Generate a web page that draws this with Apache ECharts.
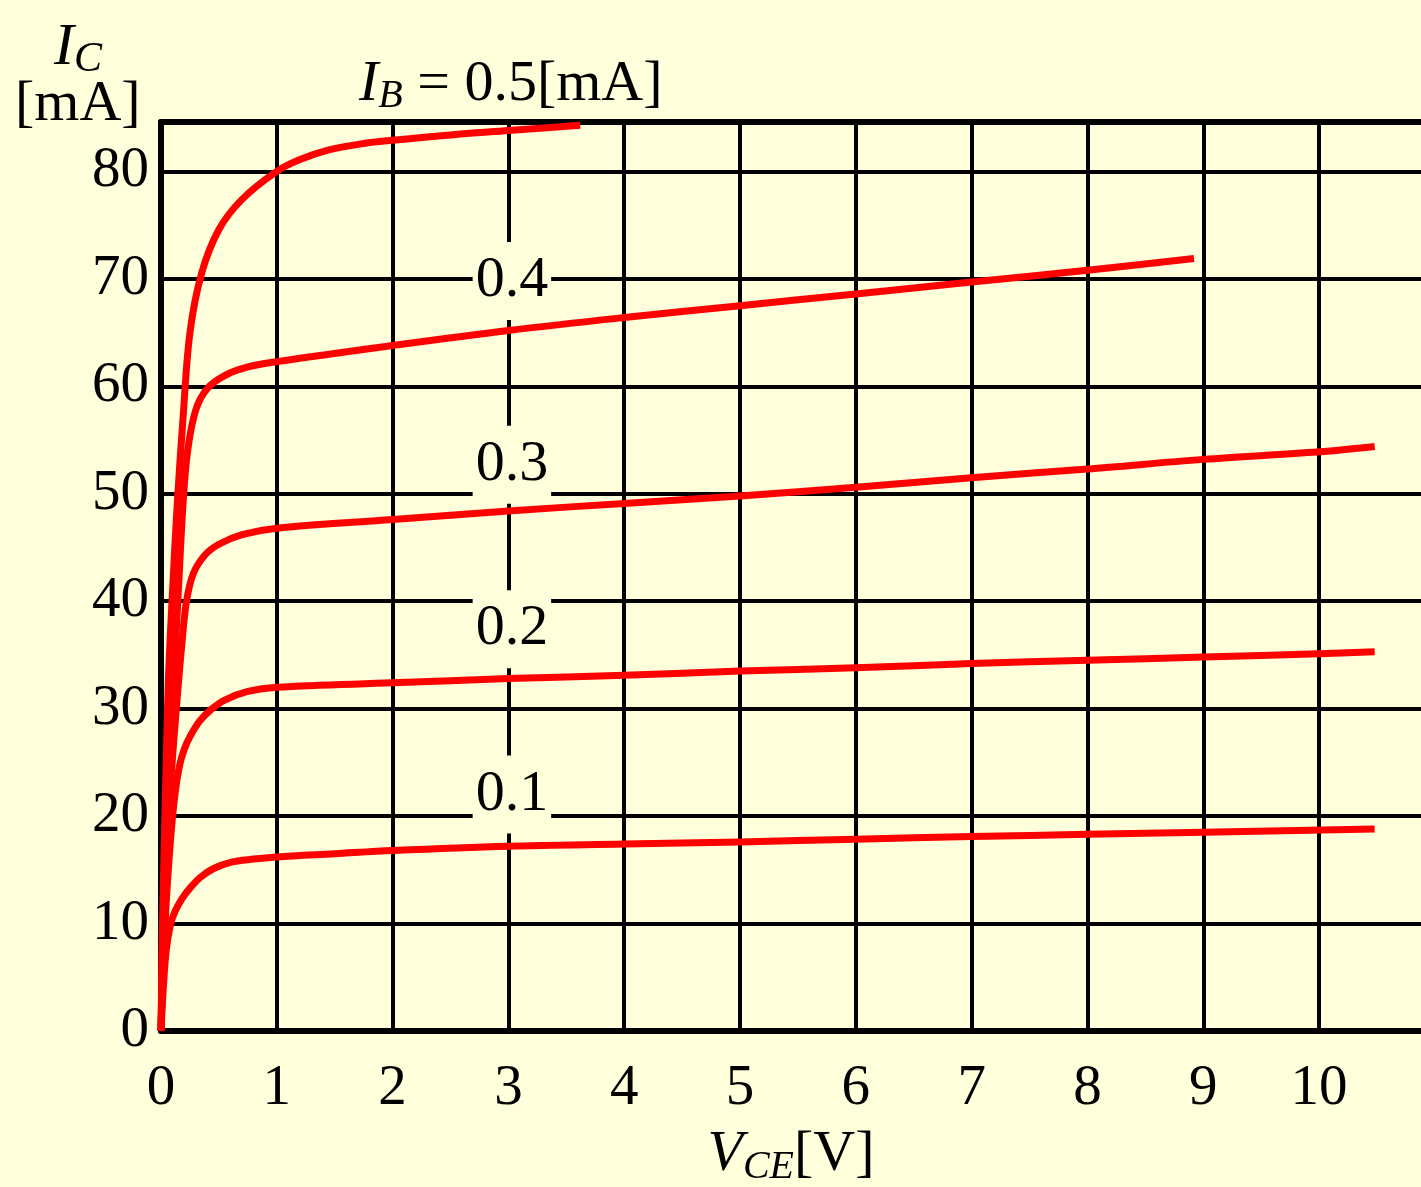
<!DOCTYPE html>
<html>
<head>
<meta charset="utf-8">
<script src="https://cdn.jsdelivr.net/npm/echarts@6/dist/echarts.min.js"></script>
<style>
  html, body { margin: 0; padding: 0; background: #FFFFDB; }
  #chart { width: 1421px; height: 1187px; }
</style>
</head>
<body>
<div id="chart"></div>
<script>
// Transistor output characteristics: collector current vs collector-emitter voltage
const ibLevels = ['0.1', '0.2', '0.3', '0.4', '0.5'];

// [V_CE (V), I_C (mA)] for each base current
const curveIb01 = [[0,0],[0.02,4],[0.045,7.5],[0.08,9.8],[0.12,11.1],[0.18,12.3],[0.25,13.3],[0.34,14.3],[0.45,15.1],[0.6,15.7],[0.8,16.0],[1,16.2],[1.5,16.5],[2,16.8],[3,17.2],[4,17.4],[5,17.6],[6,17.85],[7,18.1],[8,18.3],[9,18.5],[10.48,18.8]];
const curveIb02 = [[0,0],[0.015,5],[0.04,11],[0.08,17.5],[0.12,22],[0.16,24.7],[0.2,26.2],[0.25,27.4],[0.33,28.8],[0.43,29.9],[0.55,30.8],[0.75,31.6],[1,32.0],[2,32.4],[3,32.8],[4,33.1],[5,33.5],[6,33.8],[7,34.2],[8,34.5],[9,34.8],[10,35.1],[10.48,35.3]];
const curveIb03 = [[0,0],[0.02,8],[0.05,16],[0.09,24],[0.14,31],[0.18,36],[0.22,40],[0.28,42.6],[0.38,44.3],[0.5,45.3],[0.7,46.2],[1,46.8],[2,47.6],[3,48.4],[4,49.1],[5,49.8],[6,50.6],[7,51.5],[8,52.3],[9,53.2],[10,53.9],[10.48,54.4]];
const curveIb04 = [[0,0],[0.015,8],[0.035,16],[0.07,25],[0.11,33],[0.15,41],[0.19,49],[0.23,54],[0.3,57.8],[0.4,59.8],[0.55,61.0],[0.75,61.8],[1,62.3],[2,63.8],[3,65.2],[4,66.4],[5,67.5],[6,68.6],[7,69.7],[8,70.8],[8.92,71.9]];
const curveIb05 = [[0,0],[0.01,8],[0.025,16],[0.045,25],[0.065,33],[0.1,41],[0.14,49],[0.19,57],[0.25,65],[0.35,70.5],[0.5,74.6],[0.7,77.4],[1.0,80.0],[1.2,81.1],[1.45,82.0],[1.75,82.6],[2,82.9],[2.5,83.4],[3,83.8],[3.62,84.3]];
const curves = [curveIb01, curveIb02, curveIb03, curveIb04, curveIb05];

// Where each base-current tag sits, in (V_CE, I_C) coordinates
const ibTagAnchors = [[3.03, 22.0], [3.03, 37.4], [3.03, 52.7], [3.03, 69.8], [3.02, 88.1]];

// Axis extents and tick steps
const xMax = 10.88, xStep = 1;
const yMax = 84.6, yStep = 10;

const BG = '#FFFFDB';
const SERIF = "'Liberation Serif', 'Times New Roman', 'DejaVu Serif', serif";
const RED = '#FF0000';
const FS = 57;

const chart = echarts.init(document.getElementById('chart'), null, { renderer: 'canvas' });

const richSub = {
  i: { fontFamily: SERIF, fontSize: 58, fontStyle: 'italic', color: '#000' },
  s: { fontFamily: SERIF, fontSize: 40, fontStyle: 'italic', color: '#000', padding: [24, 0, 0, 0] },
  n: { fontFamily: SERIF, fontSize: 58, color: '#000' }
};

const tagData = ibTagAnchors.map((p, i) => {
  const isMain = i === ibLevels.length - 1;
  const item = { value: [p[0], p[1], ibLevels[i], isMain ? 1 : 0] };
  if (isMain) item.label = { backgroundColor: 'transparent', padding: 0 };
  return item;
});

const option = {
  backgroundColor: BG,
  animation: false,
  grid: { left: 161, right: 0, top: 122, bottom: 156, containLabel: false, outerBoundsMode: 'none' },
  xAxis: [{
    type: 'value', min: 0, max: xMax, interval: xStep,
    position: 'bottom',
    axisLine: { show: true, onZero: false, lineStyle: { color: '#000', width: 6 } },
    axisTick: { show: false },
    splitLine: { show: true, showMinLine: false, showMaxLine: false, lineStyle: { color: '#000', width: 4 } },
    axisLabel: { show: true, showMaxLabel: false, margin: 30, color: '#000', fontFamily: SERIF, fontSize: FS },
    name: '{i|V}{s|CE}{n|[V]}',
    nameLocation: 'middle',
    nameGap: 92,
    nameTextStyle: { rich: richSub }
  }, {
    type: 'value', min: 0, max: xMax, interval: xStep,
    position: 'top',
    axisLine: { show: true, onZero: false, lineStyle: { color: '#000', width: 6 } },
    axisTick: { show: false },
    axisLabel: { show: false },
    splitLine: { show: false }
  }],
  yAxis: {
    type: 'value', min: 0, max: yMax, interval: yStep,
    axisLine: { show: true, onZero: false, lineStyle: { color: '#000', width: 6 } },
    axisTick: { show: false },
    splitLine: { show: true, showMinLine: false, showMaxLine: false, lineStyle: { color: '#000', width: 4 } },
    axisLabel: { show: true, showMaxLabel: false, margin: 12, color: '#000', fontFamily: SERIF, fontSize: FS }
  },
  graphic: [{
    type: 'text',
    left: 54, top: 18,
    style: {
      text: '{i|I}{s|C}',
      rich: {
        i: { fontFamily: SERIF, fontSize: 60, fontStyle: 'italic', fill: '#000' },
        s: { fontFamily: SERIF, fontSize: 42, fontStyle: 'italic', fill: '#000', padding: [24, 0, 0, 0] }
      }
    }
  }, {
    type: 'text',
    left: 15, top: 76,
    style: {
      text: '[mA]',
      font: '58px ' + SERIF,
      fill: '#000'
    }
  }],
  series: curves.map((d, i) => ({
    name: 'IB ' + ibLevels[i],
    type: 'line',
    data: d,
    showSymbol: false,
    smooth: 0.35,
    clip: false,
    silent: true,
    lineStyle: { color: RED, width: 7, cap: 'butt', join: 'round' },
    z: 3
  })).concat([{
    name: 'IB tags',
    type: 'scatter',
    data: tagData,
    symbolSize: 0,
    clip: false,
    silent: true,
    z: 5,
    itemStyle: { opacity: 1 },
    label: {
      show: true,
      position: 'inside',
      opacity: 1,
      formatter: p => p.value[3] ? '{i|I}{s|B}{n| = ' + p.value[2] + '[mA]}' : '{n|' + p.value[2] + '}',
      backgroundColor: BG,
      padding: [10, 3],
      rich: richSub
    }
  }])
};

chart.setOption(option);
</script>
</body>
</html>
